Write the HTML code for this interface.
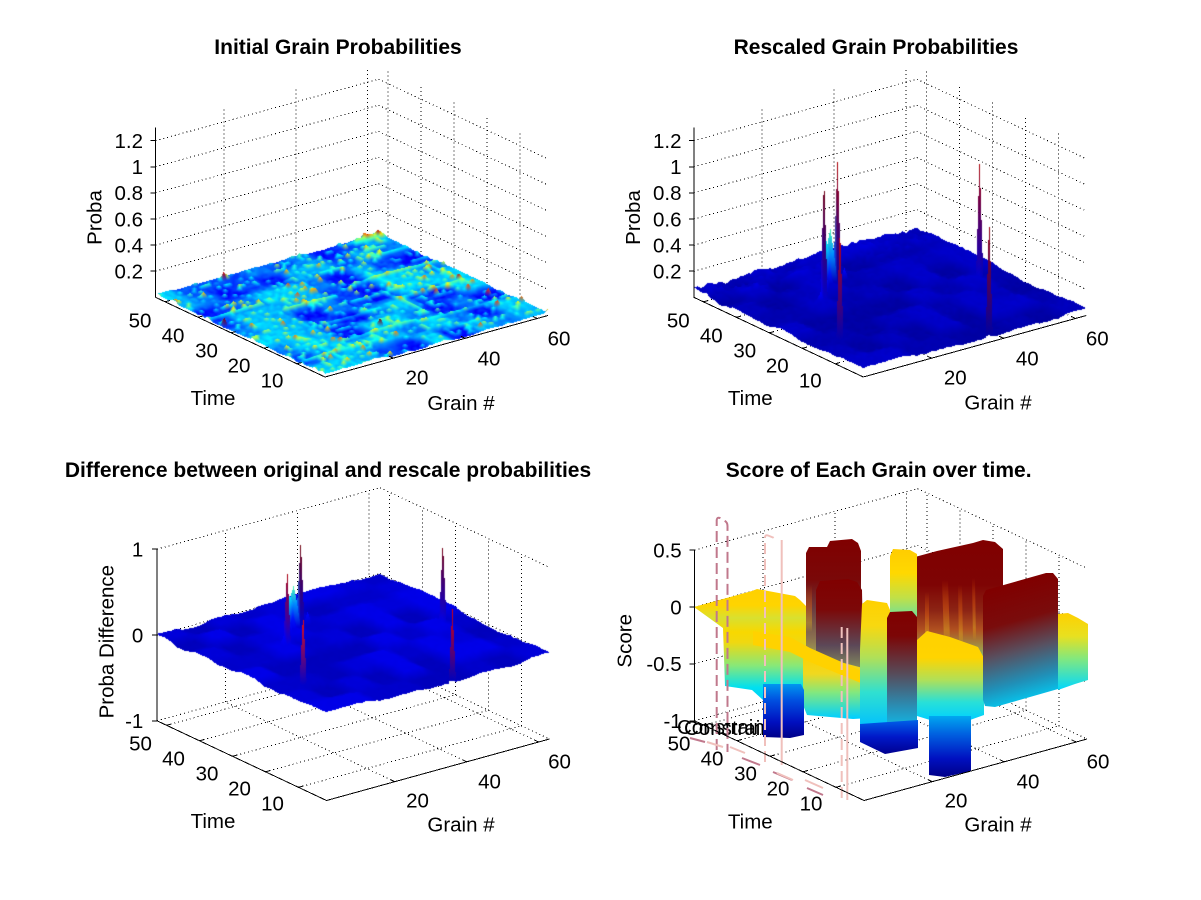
<!DOCTYPE html>
<html><head><meta charset="utf-8">
<style>
html,body{margin:0;padding:0;background:#fff;}
#wrap{position:relative;width:1201px;height:900px;overflow:hidden;background:#fff;}
svg,canvas{position:absolute;left:0;top:0;}
text{font-family:"Liberation Sans",Arial,Helvetica,sans-serif;fill:#000;}
.t{font-size:20.5px;}
.h{font-size:21px;font-weight:bold;}
</style></head><body>
<div id="wrap">
<svg id="bg" width="1201" height="900"><g id="grid" fill="none" stroke="#000" stroke-width="1" stroke-dasharray="1 3" shape-rendering="crispEdges"></g></svg>
<canvas id="cv" width="1201" height="900"></canvas>
<svg id="fg" width="1201" height="900">
<defs>
<linearGradient id="gL1" gradientUnits="userSpaceOnUse" x1="0" y1="540" x2="0" y2="668"><stop offset="0" stop-color="#800000"/><stop offset=".35" stop-color="#7e0404"/><stop offset=".55" stop-color="#8c2414"/><stop offset=".7" stop-color="#b05020"/><stop offset=".85" stop-color="#a09848"/><stop offset="1" stop-color="#40c8c0"/></linearGradient>
<linearGradient id="gL3" gradientUnits="userSpaceOnUse" x1="0" y1="539" x2="0" y2="655"><stop offset="0" stop-color="#800000"/><stop offset=".35" stop-color="#7a0808"/><stop offset=".6" stop-color="#6a3c40"/><stop offset=".85" stop-color="#8a7050"/><stop offset="1" stop-color="#a0a050"/></linearGradient>
<linearGradient id="gL2" gradientUnits="userSpaceOnUse" x1="0" y1="548" x2="0" y2="648"><stop offset="0" stop-color="#ffcc00"/><stop offset=".25" stop-color="#ffd800"/><stop offset=".5" stop-color="#c0e048"/><stop offset=".8" stop-color="#40e0c8"/><stop offset="1" stop-color="#00d0ff"/></linearGradient>
<linearGradient id="gL4" gradientUnits="userSpaceOnUse" x1="0" y1="579" x2="0" y2="700"><stop offset="0" stop-color="#800000"/><stop offset=".25" stop-color="#7c0808"/><stop offset=".55" stop-color="#5c4858"/><stop offset=".8" stop-color="#90a060"/><stop offset="1" stop-color="#d0d830"/></linearGradient>
<linearGradient id="gM1" gradientUnits="userSpaceOnUse" x1="0" y1="589" x2="0" y2="705"><stop offset="0" stop-color="#ffd000"/><stop offset=".14" stop-color="#ffd400"/><stop offset=".25" stop-color="#d8e030"/><stop offset=".37" stop-color="#f8d800"/><stop offset=".46" stop-color="#f0d810"/><stop offset=".66" stop-color="#88e878"/><stop offset=".85" stop-color="#00e0f0"/><stop offset="1" stop-color="#00c8ff"/></linearGradient>
<linearGradient id="gM3" gradientUnits="userSpaceOnUse" x1="0" y1="655" x2="0" y2="718"><stop offset="0" stop-color="#ffd000"/><stop offset=".3" stop-color="#f0d820"/><stop offset=".6" stop-color="#80e880"/><stop offset="1" stop-color="#00d0ff"/></linearGradient>
<linearGradient id="gM4" gradientUnits="userSpaceOnUse" x1="0" y1="600" x2="0" y2="728"><stop offset="0" stop-color="#ffd000"/><stop offset=".2" stop-color="#f8d810"/><stop offset=".45" stop-color="#b0e058"/><stop offset=".72" stop-color="#30e0d0"/><stop offset="1" stop-color="#00c0ff"/></linearGradient>
<linearGradient id="gP" gradientUnits="userSpaceOnUse" x1="0" y1="611" x2="0" y2="735"><stop offset="0" stop-color="#800000"/><stop offset=".2" stop-color="#7c0606"/><stop offset=".5" stop-color="#584a58"/><stop offset=".78" stop-color="#2890b8"/><stop offset="1" stop-color="#08c8f8"/></linearGradient>
<linearGradient id="gB2" gradientUnits="userSpaceOnUse" x1="0" y1="720" x2="0" y2="754"><stop offset="0" stop-color="#0060e8"/><stop offset=".5" stop-color="#0018c8"/><stop offset="1" stop-color="#000090"/></linearGradient>
<linearGradient id="gM5" gradientUnits="userSpaceOnUse" x1="0" y1="631" x2="0" y2="720"><stop offset="0" stop-color="#ffd000"/><stop offset=".3" stop-color="#ffd400"/><stop offset=".55" stop-color="#b0e058"/><stop offset=".8" stop-color="#28e0d8"/><stop offset="1" stop-color="#00d0ff"/></linearGradient>
<linearGradient id="gB3" gradientUnits="userSpaceOnUse" x1="0" y1="716" x2="0" y2="777"><stop offset="0" stop-color="#00a8f0"/><stop offset=".3" stop-color="#0060e0"/><stop offset=".7" stop-color="#0010c0"/><stop offset="1" stop-color="#000088"/></linearGradient>
<linearGradient id="gRW" gradientUnits="userSpaceOnUse" x1="1020" y1="582" x2="1052" y2="698"><stop offset="0" stop-color="#800000"/><stop offset=".3" stop-color="#7a0c0c"/><stop offset=".55" stop-color="#585060"/><stop offset=".8" stop-color="#2090b8"/><stop offset="1" stop-color="#00d0f8"/></linearGradient>
<linearGradient id="gFR" gradientUnits="userSpaceOnUse" x1="0" y1="613" x2="0" y2="690"><stop offset="0" stop-color="#ffd000"/><stop offset=".3" stop-color="#e8e020"/><stop offset=".6" stop-color="#80e880"/><stop offset="1" stop-color="#00d8ff"/></linearGradient>
<linearGradient id="gB1" gradientUnits="userSpaceOnUse" x1="0" y1="684" x2="0" y2="738"><stop offset="0" stop-color="#0098f0"/><stop offset=".3" stop-color="#0050e0"/><stop offset=".7" stop-color="#0010c0"/><stop offset="1" stop-color="#000088"/></linearGradient>
<linearGradient id="gS" x1="0" y1="0" x2="0" y2="1"><stop offset="0" stop-color="#ff7000" stop-opacity="0"/><stop offset=".45" stop-color="#e06010" stop-opacity=".45"/><stop offset=".8" stop-color="#e0b020" stop-opacity=".4"/><stop offset="1" stop-color="#ffd000" stop-opacity="0"/></linearGradient>
</defs>
<g id="s4">
<polygon points="915,557 937,551 973,543 983,540 995,542 1003,549 1003,668 915,668" fill="url(#gL1)"/>
<polygon points="942,580 948,580 950,642 944,642" fill="url(#gS)"/>
<polygon points="958,585 962,585 963,646 959,646" fill="url(#gS)"/>
<polygon points="972,578 975,578 976,640 973,640" fill="url(#gS)"/>
<polygon points="925,592 929,592 929,642 925,642" fill="url(#gS)"/>
<polygon points="806,553 809,547 827,547 830,541 852,539 858,543 861,551 861,655 806,655" fill="url(#gL3)"/>
<polygon points="806,585 812,585 812,632 806,632" fill="url(#gS)"/>
<polygon points="890,556 893,549 910,550 917,554 917,648 890,642" fill="url(#gL2)"/>
<polygon points="816,590 820,581 848,579 857,582 862,590 864,700 816,700" fill="url(#gL4)"/>
<polygon points="694,607 752,591 757,589 795,596 800,600 806,606 806,702 795,705 763,700 752,690 725,686 723,628" fill="url(#gM1)"/>
<polygon points="803,645 817,655 840,662 863,668 887,680 887,717 853,719 807,715 803,705" fill="url(#gM3)"/>
<polygon points="753,631 790,637 810,648 873,676 873,688 810,662 790,652 753,645" fill="#ffd200"/>
<polygon points="862,604 867,600 887,603 890,610 890,728 860,728 860,650" fill="url(#gM4)"/>
<polygon points="887,618 890,612 912,611 917,617 917,735 887,735" fill="url(#gP)"/>
<polygon points="860,724 918,720 918,748 885,754 860,742" fill="url(#gB2)"/>
<polygon points="917,640 927,631 950,637 978,647 984,658 984,715 970,720 930,720 917,716" fill="url(#gM5)"/>
<polygon points="929,716 971,716 971,771 945,777 929,775" fill="url(#gB3)"/>
<polygon points="983,596 986,590 1046,573 1053,573 1058,579 1058,689 995,707 985,706 983,700" fill="url(#gRW)"/>
<polygon points="1058,614 1068,613 1078,618 1088,624 1088,680 1075,684 1058,690" fill="url(#gFR)"/>
<text class="t" x="677" y="734">Constraint</text>
<text class="t" x="684" y="735">Constraint</text>
<polygon points="763,684 801,684 804,690 804,735 790,738 763,737" fill="url(#gB1)"/>
<g fill="none" stroke-width="2">
<path d="M716.7,750 L716.7,520 Q717,517 720,518 L725,521 Q727.5,522.5 727.5,526 L727.5,752" stroke="#c0788c" stroke-dasharray="11 5"/>
<path d="M765,762 L765,537 Q765.5,534.5 768,535.5 L773,537.5 Q775,538.5 775,541" stroke="#f0c0bc" stroke-dasharray="11 5"/>
<path d="M781.7,540 L781.7,765" stroke="#f0c0bc"/>
<path d="M841.7,798 L841.7,622" stroke="#f0c0bc" stroke-dasharray="11 5"/>
<path d="M847.3,628 L847.3,800" stroke="#f0c0bc"/>
<path d="M690,738 L705,742 M742,758 L760,765 M773,772 L792,780 M807,788 L823,795" stroke="#c0788c"/>
<path d="M707,742 L723,747 M730,747 L745,753 M777,773 L793,780 M805,780 L823,788" stroke="#f0c0bc"/>
</g>
</g>
<g id="axes" stroke="#000" stroke-width="1" fill="none" shape-rendering="crispEdges"></g>

<!-- Subplot 1 -->
<text class="h" x="338" y="54" text-anchor="middle">Initial Grain Probabilities</text>
<g text-anchor="end">
<text class="t" x="143" y="278.5">0.2</text><text class="t" x="143" y="252.4">0.4</text><text class="t" x="143" y="226.3">0.6</text><text class="t" x="143" y="200.2">0.8</text><text class="t" x="143" y="174.1">1</text><text class="t" x="143" y="148">1.2</text>
</g>
<g text-anchor="middle">
<text class="t" x="140" y="327.3">50</text><text class="t" x="173" y="342.3">40</text><text class="t" x="206.5" y="357.5">30</text><text class="t" x="239" y="372.5">20</text><text class="t" x="272" y="387.5">10</text>
<text class="t" x="417" y="384.3">20</text><text class="t" x="489" y="365.3">40</text><text class="t" x="559" y="345.3">60</text>
<text class="t" x="213" y="405">Time</text><text class="t" x="461" y="410">Grain #</text>
<text class="t" transform="translate(101.5,217.5) rotate(-90)">Proba</text>
</g>

<!-- Subplot 2 -->
<text class="h" x="876" y="54" text-anchor="middle">Rescaled Grain Probabilities</text>
<g text-anchor="end">
<text class="t" x="681.5" y="278.5">0.2</text><text class="t" x="681.5" y="252.4">0.4</text><text class="t" x="681.5" y="226.3">0.6</text><text class="t" x="681.5" y="200.2">0.8</text><text class="t" x="681.5" y="174.1">1</text><text class="t" x="681.5" y="148">1.2</text>
</g>
<g text-anchor="middle">
<text class="t" x="678.3" y="327.3">50</text><text class="t" x="711.3" y="342.3">40</text><text class="t" x="744.8" y="357.5">30</text><text class="t" x="777.3" y="372.5">20</text><text class="t" x="810.3" y="387.5">10</text>
<text class="t" x="955.3" y="384.3">20</text><text class="t" x="1027.3" y="365.3">40</text><text class="t" x="1097.3" y="345.3">60</text>
<text class="t" x="750.3" y="405">Time</text><text class="t" x="998" y="409.5">Grain #</text>
<text class="t" transform="translate(640,217.5) rotate(-90)">Proba</text>
</g>

<!-- Subplot 3 -->
<text class="h" x="328" y="477" text-anchor="middle">Difference between original and rescale probabilities</text>
<g text-anchor="end">
<text class="t" x="143.3" y="556.5">1</text><text class="t" x="143.3" y="642.3">0</text><text class="t" x="143.3" y="728.1">-1</text>
</g>
<g text-anchor="middle">
<text class="t" x="140.5" y="750.3">50</text><text class="t" x="173.5" y="765.3">40</text><text class="t" x="207" y="780.5">30</text><text class="t" x="239.5" y="795.5">20</text><text class="t" x="272.5" y="810.5">10</text>
<text class="t" x="417.5" y="807.3">20</text><text class="t" x="489.5" y="788.3">40</text><text class="t" x="559.5" y="768.3">60</text>
<text class="t" x="213" y="828">Time</text><text class="t" x="461" y="831.7">Grain #</text>
<text class="t" transform="translate(113.3,641.7) rotate(-90)">Proba Difference</text>
</g>

<!-- Subplot 4 -->
<text class="h" x="878.7" y="477" text-anchor="middle">Score of Each Grain over time.</text>
<g text-anchor="end">
<text class="t" x="681.7" y="557.4">0.5</text><text class="t" x="681.7" y="614.3">0</text><text class="t" x="681.7" y="671.2">-0.5</text><text class="t" x="681.7" y="728.1">-1</text>
</g>
<g text-anchor="middle">
<text class="t" x="679" y="750.3">50</text><text class="t" x="712" y="765.3">40</text><text class="t" x="745.5" y="780.5">30</text><text class="t" x="778" y="795.5">20</text><text class="t" x="811" y="810.5">10</text>
<text class="t" x="956" y="807.3">20</text><text class="t" x="1028" y="788.3">40</text><text class="t" x="1098" y="768.3">60</text>
<text class="t" x="750.3" y="828.3">Time</text><text class="t" x="998" y="831.7">Grain #</text>
<text class="t" transform="translate(631.7,640.8) rotate(-90)">Score</text>
</g>
</svg>
</div>
<script>
(function(){
const W=1201,H=900,NG=63,NT=53;
const A=[223,-61.5],B=[-169.5,-79.7];
const plots=[
 {F:[325,377],S:130.5,zmin:0,zmax:1.3,zt:[0.2,0.4,0.6,0.8,1,1.2]},
 {F:[863.3,377],S:130.5,zmin:0,zmax:1.3,zt:[0.2,0.4,0.6,0.8,1,1.2]},
 {F:[326.5,800.5],S:85.8,zmin:-1,zmax:1,zt:[-1,0,1]},
 {F:[864,800.5],S:113.8,zmin:-1,zmax:0.5,zt:[-1,-0.5,0,0.5]}];
function P(p,u,v,z){return [p.F[0]+u*A[0]+v*B[0], p.F[1]+u*A[1]+v*B[1]-(z-p.zmin)*p.S];}
function seg(a,b){return 'M'+a[0].toFixed(1)+' '+a[1].toFixed(1)+'L'+b[0].toFixed(1)+' '+b[1].toFixed(1);}
const GT=[20,40,60].map(g=>(g-1)/62), TT=[10,20,30,40,50].map(t=>(t-1.5)/51.4);
let gd='',ad='';
plots.forEach(p=>{
 GT.forEach(u=>{gd+=seg(P(p,u,1,p.zmin),P(p,u,1,p.zmax));gd+=seg(P(p,u,0,p.zmin),P(p,u,1,p.zmin));});
 TT.forEach(v=>{gd+=seg(P(p,1,v,p.zmin),P(p,1,v,p.zmax));gd+=seg(P(p,0,v,p.zmin),P(p,1,v,p.zmin));});
 p.zt.forEach(z=>{gd+=seg(P(p,0,1,z),P(p,1,1,z));gd+=seg(P(p,1,1,z),P(p,1,0,z));});
 const L=P(p,0,1,p.zmin);
 ad+=seg(L,P(p,0,1,p.zmax))+seg(L,P(p,0,0,p.zmin))+seg(P(p,0,0,p.zmin),P(p,1,0,p.zmin));
 p.zt.forEach(z=>{const q=P(p,0,1,z);ad+=seg([q[0]-5,q[1]],q);});
 TT.forEach(v=>{ad+=seg(P(p,0,v,p.zmin),P(p,0.02,v,p.zmin));});
 GT.forEach(u=>{ad+=seg(P(p,u,0,p.zmin),P(p,u,0.025,p.zmin));});
});
const NS='http://www.w3.org/2000/svg';
let e=document.createElementNS(NS,'path');e.setAttribute('d',gd);document.getElementById('grid').appendChild(e);
e=document.createElementNS(NS,'path');e.setAttribute('d',ad);document.getElementById('axes').appendChild(e);

const cv=document.getElementById('cv'),ctx=cv.getContext('2d');
const img=ctx.createImageData(W,H),D=img.data,ZB=new Float32Array(W*H).fill(-1e9);
function E(ax,ay,bx,by,px,py){return (bx-ax)*(py-ay)-(by-ay)*(px-ax);}
function tri(a,b,c){
 const area=E(a[0],a[1],b[0],b[1],c[0],c[1]); if(Math.abs(area)<1e-7)return;
 const x0=Math.max(0,Math.floor(Math.min(a[0],b[0],c[0]))),x1=Math.min(W-1,Math.ceil(Math.max(a[0],b[0],c[0])));
 const y0=Math.max(0,Math.floor(Math.min(a[1],b[1],c[1]))),y1=Math.min(H-1,Math.ceil(Math.max(a[1],b[1],c[1])));
 for(let y=y0;y<=y1;y++){const py=y+0.5;
  for(let x=x0;x<=x1;x++){const px=x+0.5;
   const w0=E(b[0],b[1],c[0],c[1],px,py)/area,w1=E(c[0],c[1],a[0],a[1],px,py)/area,w2=1-w0-w1;
   if(w0<-1e-4||w1<-1e-4||w2<-1e-4)continue;
   const d=w0*a[2]+w1*b[2]+w2*c[2],k=y*W+x; if(d<=ZB[k])continue; ZB[k]=d;
   const o=k*4;D[o]=w0*a[3]+w1*b[3]+w2*c[3];D[o+1]=w0*a[4]+w1*b[4]+w2*c[4];D[o+2]=w0*a[5]+w1*b[5]+w2*c[5];D[o+3]=255;
 }}
}
function jet(f){f=f<0?0:f>1?1:f;const c=x=>x<0?0:x>1?1:x;return [255*c(1.5-Math.abs(4*f-3)),255*c(1.5-Math.abs(4*f-2)),255*c(1.5-Math.abs(4*f-1))];}
function mk(v){const a=[];for(let i=0;i<NG;i++)a.push(new Array(NT).fill(v));return a;}
function R(seed){let s=seed>>>0;return ()=>{s=(s+0x6D2B79F5)>>>0;let t=s;t=Math.imul(t^(t>>>15),t|1);t^=t+Math.imul(t^(t>>>7),t|61);return((t^(t>>>14))>>>0)/4294967296;};}
function blocks(rnd,gc,tc,lv){const bl=[];for(let a=0;a<gc.length-1;a++){bl[a]=[];for(let b=0;b<tc.length-1;b++)bl[a][b]=lv[Math.floor(rnd()*lv.length)];}
 const F=mk(0);for(let i=0;i<NG;i++){let a=0;while(i>=gc[a+1])a++;for(let j=0;j<NT;j++){let b=0;while(j>=tc[b+1])b++;F[i][j]=bl[a][b];}}return F;}
function blur(F){const G=mk(0);for(let i=0;i<NG;i++)for(let j=0;j<NT;j++){let s=0,c=0;for(let di=-1;di<=1;di++)for(let dj=-1;dj<=1;dj++){const a=i+di,b=j+dj;if(a>=0&&a<NG&&b>=0&&b<NT){s+=F[a][b];c++;}}G[i][j]=s/c;}return G;}
function surf(p,Z,C){
 const V=[];
 for(let i=0;i<NG;i++)for(let j=0;j<NT;j++){const u=i/(NG-1),v=j/(NT-1),z=Z[i][j];const s=P(p,u,v,z);
  const d=-0.569*u-0.741*v+0.232*(z-p.zmin)/(p.zmax-p.zmin);const c=C[i][j];V[i*NT+j]=[s[0],s[1],d,c[0],c[1],c[2]];}
 for(let i=0;i<NG-1;i++)for(let j=0;j<NT-1;j++){const a=V[i*NT+j],b=V[(i+1)*NT+j],c=V[(i+1)*NT+j+1],d=V[i*NT+j+1];tri(a,b,c);tri(a,c,d);}
}
// Subplot 1
const r1=R(12345);
const b1=blur(blocks(r1,[0,5,11,17,24,30,36,43,49,55,63],[0,6,12,18,24,30,36,42,48,53],[0.008,0.012,0.016,0.02,0.022]));
const S1=mk(0);
for(let k=0;k<22;k++){const j=Math.floor(r1()*NT),i0=Math.floor(r1()*NG),len=5+Math.floor(r1()*18),a=0.005+r1()*0.008;
 for(let i=i0;i<Math.min(NG,i0+len);i++)S1[i][j]+=a;}
for(let k=0;k<8;k++){const i=Math.floor(r1()*NG),j0=Math.floor(r1()*NT),len=4+Math.floor(r1()*12),a=0.004+r1()*0.006;
 for(let j=j0;j<Math.min(NT,j0+len);j++)S1[i][j]+=a;}
const K1=mk(0);
for(let i=0;i<NG;i++)for(let j=0;j<NT;j++){const q=r1();
 if(q<0.14)K1[i][j]+=0.006+r1()*0.01;else if(q<0.165)K1[i][j]+=0.018+r1()*0.016;else if(q<0.169)K1[i][j]+=0.035+r1()*0.025;}
const Z1=mk(0),C1=mk(0);
for(let i=0;i<NG;i++)for(let j=0;j<NT;j++){const v=b1[i][j]+r1()*0.004+S1[i][j]+K1[i][j];
 Z1[i][j]=v;C1[i][j]=jet(v/0.072);}
surf(plots[0],Z1,C1);
// Subplots 2,3 shared
const r2=R(999);
const bf=blur(blocks(r2,[0,7,14,21,28,35,42,49,56,63],[0,7,14,21,28,35,42,48,53],[0,0.33,0.66,1]));
const Z2=mk(0),C2=mk(0),Z3=mk(0),C3=mk(0);
for(let i=0;i<NG;i++)for(let j=0;j<NT;j++){
 let v=0.032+bf[i][j]*0.035+r2()*0.01; if(j>44)v+=r2()*0.02; Z2[i][j]=v;C2[i][j]=jet(v);
 Z3[i][j]=(bf[i][j]-0.5)*0.06+(r2()-0.5)*0.012;C3[i][j]=jet(0.058+bf[i][j]*0.042+r2()*0.005);}
const spk=[[19,33,1.0,0.89],[30,41,0.95,0.95],[8,16,0.92,0.81],[55,25,0.95,0.946],[35,0,0.96,0.85]];
const blob=[[26,40,0.38],[28,41,0.45],[27,40,0.25],[28,40,0.28],[27,41,0.3],[29,41,0.22],[28,42,0.18],[26,39,0.15],[25,40,0.12],[23,37,0.12],[24,38,0.15],[22,36,0.1],[31,40,0.13],[20,34,0.14],[18,33,0.12]];
blob.forEach(b=>{Z2[b[0]][b[1]]=b[2];C2[b[0]][b[1]]=jet(b[2]);Z3[b[0]][b[1]]=b[2];C3[b[0]][b[1]]=jet(b[2]);});
spk.forEach(s=>{Z2[s[0]][s[1]]=s[2];C2[s[0]][s[1]]=jet(s[2]);Z3[s[0]][s[1]]=s[3];C3[s[0]][s[1]]=jet(s[3]+0.05);});
surf(plots[1],Z2,C2);
surf(plots[2],Z3,C3);
ctx.putImageData(img,0,0);
})();
</script>
</body></html>
